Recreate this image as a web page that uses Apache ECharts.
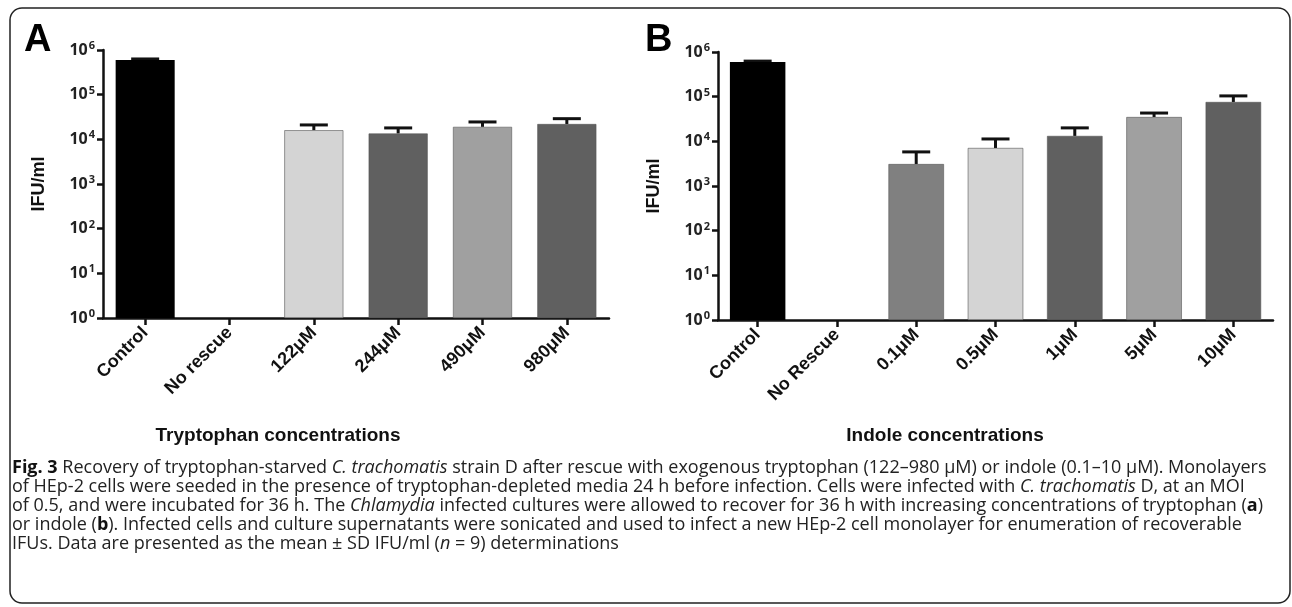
<!DOCTYPE html>
<html>
<head>
<meta charset="utf-8">
<script src="https://cdn.jsdelivr.net/npm/echarts@6/dist/echarts.min.js"></script>
<style>
  html, body { margin: 0; padding: 0; background: #fff; }
  #chart { width: 1292px; height: 607px; }
</style>
</head>
<body>
<div id="chart"></div>
<script>
// panel A - tryptophan
const catsA = ['Control', 'No rescue', '122μM', '244μM', '490μM', '980μM']
const meanA = [600000, null, 16000, 13500, 19000, 22000]
const sdA = [30000, null, 5000, 4500, 5500, 7000]
const colorsA = ['#000000', '#ffffff', '#d4d4d4', '#606060', '#a0a0a0', '#606060']

// panel B - indole
const catsB = ['Control', 'No Rescue', '0.1μM', '0.5μM', '1μM', '5μM', '10μM']
const meanB = [600000, null, 3100, 7100, 13200, 35000, 76000]
const sdB = [25000, null, 2700, 4200, 6800, 8000, 28000]
const colorsB = ['#000000', '#ffffff', '#808080', '#d4d4d4', '#606060', '#a0a0a0', '#606060']

// log axis ticks 10^0 .. 10^6
const yTicks = [1, 10, 100, 1000, 10000, 100000, 1000000]

const chart = echarts.init(document.getElementById('chart'))

function yAxisOpt(gridIndex) {
    return {
        type: 'log',
        gridIndex: gridIndex,
        logBase: 10,
        min: yTicks[0],
        max: yTicks[yTicks.length - 1],
        name: 'IFU/ml',
        nameLocation: 'middle',
        nameGap: 55,
        nameRotate: 90,
        nameTextStyle: { fontFamily: 'Liberation Sans', fontWeight: 'bold', fontSize: 18, color: '#111' },
        axisLine: { show: true, lineStyle: { color: '#111', width: 2.5 } },
        axisTick: { show: true, length: 6, lineStyle: { color: '#111', width: 2.5 } },
        splitLine: { show: false },
        minorTick: { show: false },
        axisLabel: {
            margin: 8,
            formatter: function (v) {
                const e = Math.round(Math.log10(v))
                return '{b|10}{s|' + e + '}'
            },
            rich: {
                b: { fontFamily: 'Open Sans', fontWeight: 'bold', fontSize: 16, color: '#222' },
                s: { fontFamily: 'Open Sans', fontWeight: 'bold', fontSize: 11, color: '#222', verticalAlign: 'top', padding: [0, 0, 8, 1] }
            }
        }
    }
}

function xAxisOpt(gridIndex, cats) {
    return {
        type: 'category',
        gridIndex: gridIndex,
        data: cats,
        axisLine: { show: true, lineStyle: { color: '#111', width: 2.5 } },
        axisTick: { show: true, alignWithLabel: true, length: 7, lineStyle: { color: '#111', width: 2.5 } },
        axisLabel: {
            interval: 0,
            rotate: 45,
            margin: 12,
            fontFamily: 'Liberation Sans',
            fontWeight: 'bold',
            fontSize: 18,
            color: '#111'
        }
    }
}

function barSeries(idx, data, colors) {
    return {
        type: 'bar',
        xAxisIndex: idx,
        yAxisIndex: idx,
        barWidth: '70%',
        data: data.map(function (v, i) {
            return { value: v == null ? '-' : v, itemStyle: { color: colors[i], borderColor: '#555', borderWidth: colors[i] === '#000000' ? 0 : 0.6 } }
        }),
        silent: true
    }
}

function errSeries(idx, mean, sd) {
    return {
        type: 'custom',
        xAxisIndex: idx,
        yAxisIndex: idx,
        data: mean.map(function (v, i) { return v == null ? [i, '-', '-'] : [i, v, v + sd[i]] }),
        renderItem: function (params, api) {
            const x = api.value(0)
            const lo = api.coord([x, api.value(1)])
            const hi = api.coord([x, api.value(2)])
            const half = 14
            return {
                type: 'group',
                children: [
                    { type: 'line', shape: { x1: lo[0], y1: lo[1], x2: hi[0], y2: hi[1] }, style: { stroke: '#111', lineWidth: 3 } },
                    { type: 'line', shape: { x1: hi[0] - half, y1: hi[1], x2: hi[0] + half, y2: hi[1] }, style: { stroke: '#111', lineWidth: 3 } }
                ]
            }
        },
        z: 1,
        silent: true
    }
}

const captionLines = [
    '{b|Fig. 3} Recovery of tryptophan-starved {i|C. trachomatis} strain D after rescue with exogenous tryptophan (122–980 μM) or indole (0.1–10 μM). Monolayers',
    'of HEp-2 cells were seeded in the presence of tryptophan-depleted media 24 h before infection. Cells were infected with {i|C. trachomatis} D, at an MOI',
    'of 0.5, and were incubated for 36 h. The {i|Chlamydia} infected cultures were allowed to recover for 36 h with increasing concentrations of tryptophan ({b|a})',
    'or indole ({b|b}). Infected cells and culture supernatants were sonicated and used to infect a new HEp-2 cell monolayer for enumeration of recoverable',
    'IFUs. Data are presented as the mean ± SD IFU/ml ({i|n} = 9) determinations'
]

const captionGraphics = captionLines.map(function (t, i) {
    return {
        type: 'text',
        left: 12,
        top: 459 + i * 19,
        style: {
            text: t,
            font: '18px "Open Sans"',
            fill: '#222',
            rich: {
                b: { fontFamily: 'Open Sans', fontWeight: 'bold', fontSize: 18, fill: '#111' },
                i: { fontFamily: 'Open Sans', fontStyle: 'italic', fontSize: 18, fill: '#222' }
            }
        }
    }
})

chart.setOption({
    animation: false,
    grid: [
        { left: 103, top: 50, width: 506, height: 268 },
        { left: 718, top: 52, width: 555, height: 268 }
    ],
    xAxis: [xAxisOpt(0, catsA), xAxisOpt(1, catsB)],
    yAxis: [yAxisOpt(0), yAxisOpt(1)],
    series: [
        barSeries(0, meanA, colorsA),
        errSeries(0, meanA, sdA),
        barSeries(1, meanB, colorsB),
        errSeries(1, meanB, sdB)
    ],
    graphic: [
        {
            type: 'rect',
            shape: { x: 10, y: 8, width: 1280, height: 595, r: 12 },
            style: { fill: 'none', stroke: '#222', lineWidth: 1.5 },
            silent: true
        },
        { type: 'text', left: 24, top: 22, style: { text: 'A', font: 'bold 38px "Liberation Sans"', fill: '#000' } },
        { type: 'text', left: 645, top: 22, style: { text: 'B', font: 'bold 38px "Liberation Sans"', fill: '#000' } },
        { type: 'text', x: 278, y: 436, style: { text: 'Tryptophan concentrations', font: 'bold 19px "Liberation Sans"', fill: '#111', align: 'center', verticalAlign: 'middle' } },
        { type: 'text', x: 945, y: 436, style: { text: 'Indole concentrations', font: 'bold 19px "Liberation Sans"', fill: '#111', align: 'center', verticalAlign: 'middle' } }
    ].concat(captionGraphics)
})
</script>
</body>
</html>
